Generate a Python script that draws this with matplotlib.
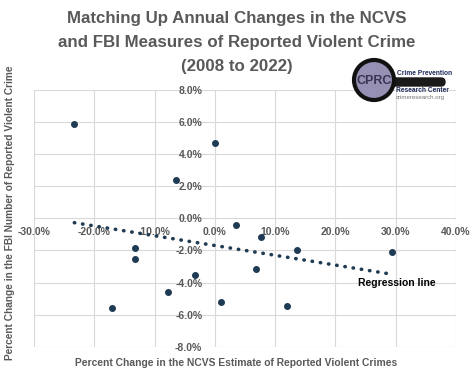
import numpy as np
import matplotlib
matplotlib.use("Agg")
import matplotlib.pyplot as plt
from matplotlib.patches import Circle, FancyBboxPatch
from matplotlib.ticker import FuncFormatter

# percent change, NCVS estimate (x) vs FBI count (y)
ncvs_change = [-23.3, 0.0, -6.5, 3.6, 7.6, 13.6, 29.4, -13.2, -13.2,
               -3.3, -7.8, 6.9, -17.0, 1.0, 12.0]
fbi_change = [5.86, 4.69, 2.42, -0.42, -1.15, -2.0, -2.1, -1.83, -2.56,
              -3.56, -4.58, -3.17, -5.6, -5.23, -5.48]

# regression line end points
trend_x = [-23.3, 29.0]
trend_y = [-0.27, -3.46]

title_lines = ["Matching Up Annual Changes in the NCVS",
               "and FBI Measures of Reported Violent Crime",
               "(2008 to 2022)"]
xlabel = "Percent Change in the NCVS Estimate of Reported Violent Crimes"
ylabel = "Percent Change in the FBI Number of Reported Violent Crime"

sans = ['Liberation Sans', 'DejaVu Sans']
gray = '#595959'
navy = '#1f3b53'

fig = plt.figure(figsize=(4.74, 3.72), dpi=100)
ax = fig.add_axes([0.0717, 0.068, 0.890, 0.690])

ax.plot(trend_x, trend_y, linestyle=(0, (0.1, 2.2)), lw=2.6,
        color=navy, dash_capstyle='round', zorder=2)
ax.plot(ncvs_change, fbi_change, 'o', ms=4, color=navy, zorder=3)

ax.set_xlim(-30, 40)
ax.set_ylim(-8, 8)
ax.set_xticks(np.arange(-30, 41, 10))
ax.set_yticks(np.arange(-8, 9, 2))
ax.xaxis.set_major_formatter(FuncFormatter(lambda v, p: f"{v:.1f}%"))
ax.yaxis.set_major_formatter(FuncFormatter(lambda v, p: f"{v:.1f}%"))

for s in ['top', 'right']:
    ax.spines[s].set_visible(False)
ax.spines['left'].set_position(('data', 0))
ax.spines['bottom'].set_position(('data', 0))
ax.spines['left'].set_color('none')
ax.spines['bottom'].set_color('none')
ax.tick_params(length=0, labelsize=7.5, colors=gray)
ax.tick_params(axis='x', pad=6)
ax.tick_params(axis='y', pad=9)
for lab in ax.get_xticklabels() + ax.get_yticklabels():
    lab.set_fontweight('bold')
    lab.set_family(sans)
ax.grid(True, color='#d9d9d9', lw=0.8)
ax.set_axisbelow(True)

ax.text(23.8, -4.2, "Regression line", fontsize=7.5, fontweight='bold',
        family=sans, color='black')

for i, line in enumerate(title_lines):
    fig.text(0.5, 1 - (18 + 24 * i) / 372, line, ha='center', va='center',
             fontsize=12.2, fontweight='bold', color=gray, family=sans)
fig.text(0.498, 1 - 363 / 372, xlabel, ha='center', va='center', fontsize=7.4,
         fontweight='bold', color=gray, family=sans)
fig.text(10 / 474, 1 - 213 / 372, ylabel, ha='center', va='center',
         rotation=90, fontsize=7.3, fontweight='bold', color=gray, family=sans)

# logo, drawn in pixel units
lg = fig.add_axes([340 / 474, 1 - 110 / 372, 120 / 474, 55 / 372])
lg.set_xlim(340, 460)
lg.set_ylim(110, 55)
lg.axis('off')
lg.add_patch(FancyBboxPatch((388, 78), 57, 8,
                            boxstyle='round,pad=0,rounding_size=4',
                            color='#1a1a1a', zorder=1))
lg.add_patch(Circle((374, 80), 20, facecolor='#9690b4', edgecolor='#111111',
                    lw=3, zorder=2))
lg.text(374, 81, "CPRC", ha='center', va='center', fontsize=9,
        fontweight='bold', color='#3a3552', family=sans, zorder=3)
lg.text(397, 73.5, "Crime Prevention", fontsize=4.8, fontweight='bold',
        color='#1f2a5a', va='center', family=sans, zorder=3)
lg.text(396, 91, "Research Center", fontsize=4.8, fontweight='bold',
        color='#1f2a5a', va='center', family=sans, zorder=3)
lg.text(396, 97, "crimeresearch.org", fontsize=4.4, color='#777777',
        va='center', family=sans, zorder=3)

fig.savefig("out.png", dpi=100)
